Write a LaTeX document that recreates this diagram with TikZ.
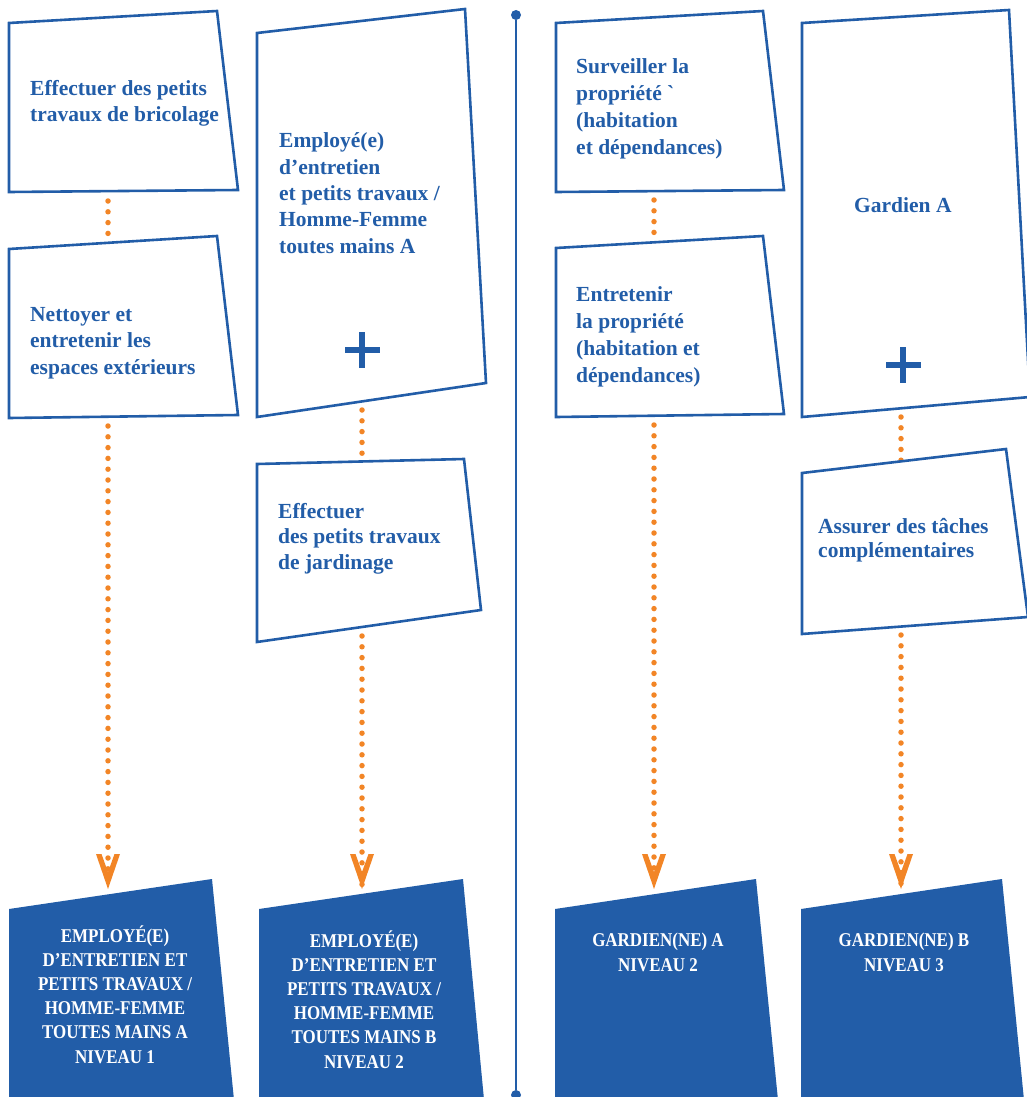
\documentclass[tikz,border=0pt]{standalone}
\usepackage{fontspec}
\setmainfont{Liberation Serif}[Ligatures=TeXOff]
\newfontfamily\capsfont{Liberation Serif}[FakeStretch=0.87,Ligatures=TeXOff]
\definecolor{dblue}{RGB}{34,93,168}
\definecolor{dorange}{RGB}{242,133,38}
\begin{document}
\begin{tikzpicture}[x=1pt,y=-1pt,
  box/.style={draw=dblue, line width=2.6pt, line join=miter, fill=white},
  sbox/.style={fill=dblue},
  lbl/.style={anchor=base west, align=left, inner sep=0pt, text=dblue,
    font=\fontsize{21.5}{26.3}\selectfont\bfseries},
  clbl/.style={anchor=base, align=center, inner sep=0pt, text=white,
    font=\capsfont\fontsize{19.5}{24.2}\selectfont\bfseries},
  dotline/.style={draw=dorange, line width=5.5pt, line cap=round,
    dash pattern=on 0pt off 10.8pt, dash phase=1.8pt},
  enddot/.style={circle, fill=dblue, inner sep=0pt, minimum size=10pt},
  chev/.pic={\fill[dorange] (-12,-35) -- (0,0) -- (12,-35) -- (6.5,-35) -- (0,-17) -- (-6.5,-35) -- cycle;},
  plusmark/.pic={\fill[dblue] (-17.5,-3.2) rectangle (17.5,3.2);
                 \fill[dblue] (-3.2,-18) rectangle (3.2,18);}
]
\useasboundingbox (0,0) rectangle (1027,1097);
\clip (0,0) rectangle (1027,1097);

% connector end points
\coordinate (c1a) at (108,192);  \coordinate (c1b) at (108,243);
\coordinate (c1c) at (108,417);  \coordinate (c1d) at (108,889);
\coordinate (c2a) at (362,401);  \coordinate (c2b) at (362,461);
\coordinate (c2c) at (362,627);  \coordinate (c2d) at (362,889);
\coordinate (c3a) at (654,191);  \coordinate (c3b) at (654,242);
\coordinate (c3c) at (654,416);  \coordinate (c3d) at (654,889);
\coordinate (c4a) at (901,408);  \coordinate (c4b) at (901,461);
\coordinate (c4c) at (901,626);  \coordinate (c4d) at (901,889);

\draw[dotline] (c1a) -- (c1b);  \draw[dotline] (c1c) -- (c1d);
\draw[dotline] (c2a) -- (c2b);  \draw[dotline] (c2c) -- (c2d);
\draw[dotline] (c3a) -- (c3b);  \draw[dotline] (c3c) -- (c3d);
\draw[dotline] (c4a) -- (c4b);  \draw[dotline] (c4c) -- (c4d);

% vertical separator
\node[enddot] (vt) at (516,15) {};
\node[enddot] (vb) at (516,1095) {};
\draw[dblue, line width=2.5pt] (vt) -- (vb);

% outlined boxes
\draw[box] (9,23) -- (217,11) -- (238,190) -- (9,192) -- cycle;
\draw[box] (9,249) -- (217,236) -- (238,415) -- (9,418) -- cycle;
\draw[box] (257,33) -- (465,9) -- (486,383) -- (257,417) -- cycle;
\draw[box] (257,464) -- (464,459) -- (481,610) -- (257,642) -- cycle;
\draw[box] (556,23) -- (763,11) -- (784,190) -- (556,192) -- cycle;
\draw[box] (556,248) -- (763,236) -- (784,414) -- (556,417) -- cycle;
\draw[box] (802,23) -- (1009,10) -- (1030,397) -- (802,417) -- cycle;
\draw[box] (802,473) -- (1006,449) -- (1028,617) -- (802,634) -- cycle;

% (anchor base = baseline of the last line)
\node[lbl] (t1) at (30,122) {Effectuer des petits\\travaux de bricolage};
\node[lbl] (t2) at (30,374) {Nettoyer et\\entretenir les\\espaces extérieurs};
\node[lbl] (t3) at (279,253) {Employé(e)\\d’entretien\\et petits travaux /\\Homme-Femme\\toutes mains A};
\node[lbl, font=\fontsize{21.5}{25.5}\selectfont\bfseries] (t4) at (278,569) {Effectuer\\des petits travaux\\de jardinage};
\node[lbl, font=\fontsize{21.5}{26.7}\selectfont\bfseries] (t5) at (576,154) {Surveiller la\\propriété `\\(habitation\\et dépendances)};
\node[lbl, font=\fontsize{21.5}{26.7}\selectfont\bfseries] (t6) at (576,382) {Entretenir\\la propriété\\(habitation et\\dépendances)};
\node[lbl] (t7) at (854,212) {Gardien A};
\node[lbl, font=\fontsize{21.5}{24}\selectfont\bfseries] (t8) at (818,557) {Assurer des tâches\\complémentaires};

\pic at (362,350) {plusmark};
\pic at (903,365) {plusmark};

% filled result boxes
\fill[sbox] (9,909) -- (212,879) -- (235,1110) -- (9,1110) -- cycle;
\fill[sbox] (259,909) -- (463,879) -- (485,1110) -- (259,1110) -- cycle;
\fill[sbox] (555,909) -- (756,879) -- (779,1110) -- (555,1110) -- cycle;
\fill[sbox] (801,909) -- (1002,879) -- (1025,1110) -- (801,1110) -- cycle;

\node[clbl] (r1) at (115,1063) {EMPLOYÉ(E)\\D’ENTRETIEN ET\\PETITS TRAVAUX /\\HOMME-FEMME\\TOUTES MAINS A\\NIVEAU 1};
\node[clbl] (r2) at (364,1068) {EMPLOYÉ(E)\\D’ENTRETIEN ET\\PETITS TRAVAUX /\\HOMME-FEMME\\TOUTES MAINS B\\NIVEAU 2};
\node[clbl] (r3) at (658,971) {GARDIEN(NE) A\\NIVEAU 2};
\node[clbl] (r4) at (904,971) {GARDIEN(NE) B\\NIVEAU 3};

% arrowheads
\pic at (c1d) {chev};
\pic at (c2d) {chev};
\pic at (c3d) {chev};
\pic at (c4d) {chev};
\end{tikzpicture}
\end{document}
